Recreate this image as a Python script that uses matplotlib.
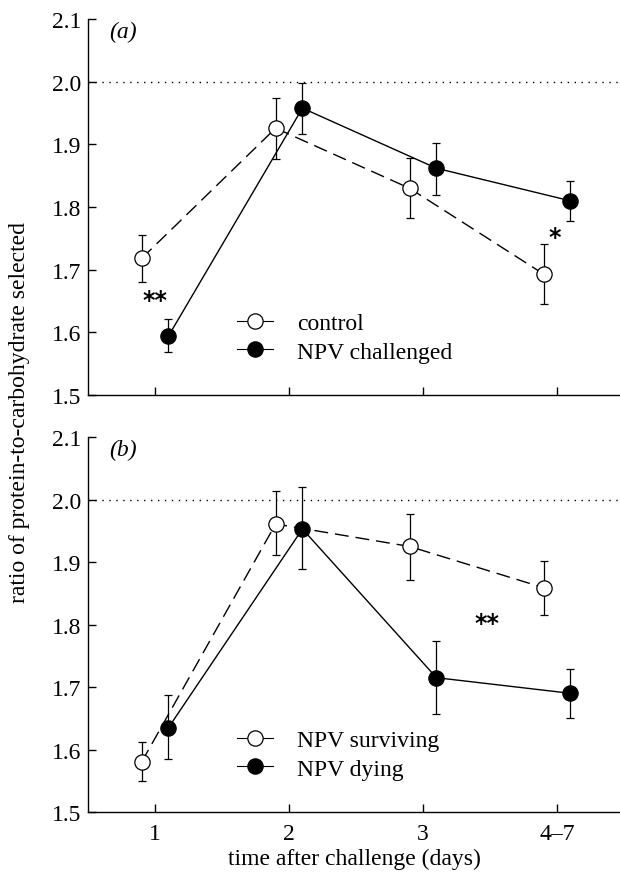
import numpy as np
import matplotlib
matplotlib.use("Agg")
import matplotlib.pyplot as plt

plt.rcParams['font.family'] = ['Liberation Serif', 'DejaVu Serif']
plt.rcParams['mathtext.fontset'] = 'stix'

# posições dos dias e rótulos
days = [1, 2, 3, 4]
day_labels = ['1', '2', '3', '4\u20137']

# painel (a)
control_mean = [1.718, 1.926, 1.830, 1.693]
control_hi = [1.756, 1.974, 1.879, 1.741]
control_lo = [1.680, 1.877, 1.782, 1.645]
challenged_mean = [1.594, 1.958, 1.862, 1.810]
challenged_hi = [1.621, 1.998, 1.903, 1.842]
challenged_lo = [1.568, 1.916, 1.820, 1.778]

# painel (b)
surviving_mean = [1.580, 1.961, 1.925, 1.859]
surviving_hi = [1.612, 2.013, 1.977, 1.901]
surviving_lo = [1.549, 1.911, 1.871, 1.816]
dying_mean = [1.635, 1.953, 1.715, 1.690]
dying_hi = [1.687, 2.020, 1.774, 1.729]
dying_lo = [1.585, 1.889, 1.657, 1.651]

fig = plt.figure(figsize=(6.2, 8.78), dpi=100)
ax_a = fig.add_axes([0.142, 0.549, 0.858, 0.428])
ax_b = fig.add_axes([0.142, 0.074, 0.858, 0.427])


def draw_series(ax, xs, mean, lo, hi, filled, dashed, label):
    mean = np.array(mean)
    yerr = [mean - np.array(lo), np.array(hi) - mean]
    ax.errorbar(xs, mean, yerr=yerr, fmt='none', ecolor='black',
                elinewidth=0.9, capsize=2.7, capthick=0.9, zorder=2)
    ls = (0, (10, 5)) if dashed else '-'
    ax.plot(xs, mean, color='black', lw=1.0, ls=ls, zorder=3)
    ax.plot(xs, mean, ls='none', marker='o', ms=11,
            mfc='black' if filled else 'white', mec='black', mew=0.9, zorder=4)
    # entrada da legenda
    ax.plot([], [], color='black', lw=0.8, marker='o', ms=11,
            mfc='black' if filled else 'white', mec='black', mew=0.9, label=label)


def style_axes(ax, letter, show_xticklabels):
    ax.set_xlim(0.5, 4.47)
    ax.set_ylim(1.5, 2.1)
    ax.set_yticks([1.5, 1.6, 1.7, 1.8, 1.9, 2.0, 2.1])
    ax.set_yticklabels(['1.5', '1.6', '1.7', '1.8', '1.9', '2.0', '2.1'])
    ax.set_xticks(days)
    if show_xticklabels:
        ax.set_xticklabels(day_labels)
    else:
        ax.set_xticklabels([])
    ax.spines['top'].set_visible(False)
    ax.spines['right'].set_visible(False)
    ax.spines['left'].set_linewidth(1.0)
    ax.spines['bottom'].set_linewidth(1.0)
    ax.tick_params(direction='in', length=6, width=1.0, labelsize=17, pad=5)
    ax.tick_params(axis='x', pad=8)
    ax.axhline(2.0, color='black', ls=(0, (1, 4)), lw=1.0, zorder=1)
    ax.text(0.66, 2.08, '(' + letter + ')', fontsize=17, va='center', ha='left',
            fontstyle='italic')


xa = np.array(days)
draw_series(ax_a, xa - 0.1, control_mean, control_lo, control_hi, False, True, 'control')
draw_series(ax_a, xa + 0.1, challenged_mean, challenged_lo, challenged_hi, True, False, 'NPV challenged')
style_axes(ax_a, 'a', False)
ax_a.text(1.0, 1.652, '**', fontsize=17, ha='center', va='center', fontweight='bold',
          family='DejaVu Sans')
ax_a.text(3.98, 1.752, '*', fontsize=17, ha='center', va='center', fontweight='bold',
          family='DejaVu Sans')
ax_a.legend(loc='lower left', bbox_to_anchor=(0.257, 0.055), frameon=False, fontsize=17,
            handlelength=1.55, handletextpad=1.0, labelspacing=0.3, borderpad=0)

draw_series(ax_b, xa - 0.1, surviving_mean, surviving_lo, surviving_hi, False, True, 'NPV surviving')
draw_series(ax_b, xa + 0.1, dying_mean, dying_lo, dying_hi, True, False, 'NPV dying')
style_axes(ax_b, 'b', True)
ax_b.text(3.48, 1.802, '**', fontsize=17, ha='center', va='center', fontweight='bold',
          family='DejaVu Sans')
ax_b.legend(loc='lower left', bbox_to_anchor=(0.257, 0.055), frameon=False, fontsize=17,
            handlelength=1.55, handletextpad=1.0, labelspacing=0.3, borderpad=0)
ax_b.set_xlabel('time after challenge (days)', fontsize=17, labelpad=3)

fig.text(0.032, 0.53, 'ratio of protein-to-carbohydrate selected', rotation=90,
         fontsize=17, ha='center', va='center')

fig.savefig('out.png', dpi=100)
